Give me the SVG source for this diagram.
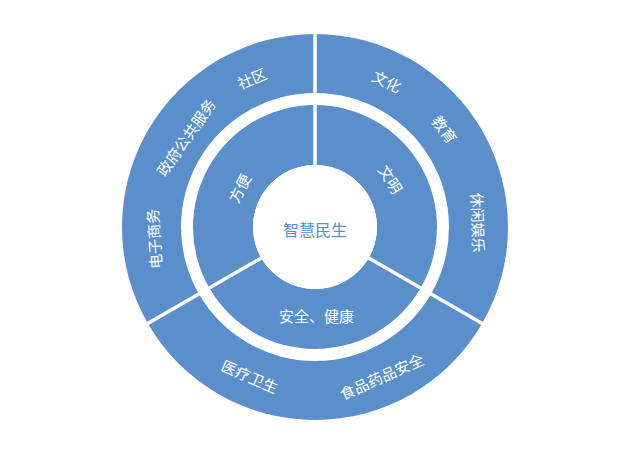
<svg xmlns="http://www.w3.org/2000/svg" width="630" height="454" viewBox="0 0 630 454">
<style>
.seg{fill:#5B8FCC}
.lbl{font-family:"Noto Sans CJK SC","Noto Sans",sans-serif;font-size:15px;fill:#ffffff;text-anchor:middle;dominant-baseline:central}
.ctr{font-family:"Noto Sans CJK SC","Noto Sans",sans-serif;font-size:16px;fill:#5B8FCC;text-anchor:middle;dominant-baseline:central}
.sep{stroke:#ffffff;stroke-width:3.5}
</style>
<rect width="630" height="454" fill="#ffffff"/>
<g id="outer-right">
<path class="seg" d="M315,34 A193,193 0 0 1 482.14,323.5 L431.05,294 A134,134 0 0 0 315,93 Z"/>
<text class="lbl" x="387" y="81" transform="rotate(26,387,81)">文化</text>
<text class="lbl" x="445" y="129" transform="rotate(53,445,129)">教育</text>
<text class="lbl" x="478.5" y="222.5" transform="rotate(88,478.5,222.5)">休闲娱乐</text>
</g>
<g id="outer-bottom">
<path class="seg" d="M482.14,323.5 A193,193 0 0 1 147.86,323.5 L198.95,294 A134,134 0 0 0 431.05,294 Z"/>
<text class="lbl" x="250" y="376" transform="rotate(23.6,250,376)">医疗卫生</text>
<text class="lbl" x="381.5" y="376" transform="rotate(-24,381.5,376)">食品药品安全</text>
</g>
<g id="outer-left">
<path class="seg" d="M147.86,323.5 A193,193 0 0 1 315,34 L315,93 A134,134 0 0 0 198.95,294 Z"/>
<text class="lbl" x="251.7" y="78" transform="rotate(-23,251.7,78)">社区</text>
<text class="lbl" x="185.6" y="137" transform="rotate(-55,185.6,137)">政府公共服务</text>
<text class="lbl" x="153.5" y="239" transform="rotate(-94,153.5,239)">电子商务</text>
</g>
<g id="inner-right">
<path class="seg" d="M315,105 A122,122 0 0 1 420.66,288 L368.69,258 A62,62 0 0 0 315,165 Z"/>
<text class="lbl" x="391" y="179" transform="rotate(57.7,391,179)">文明</text>
</g>
<g id="inner-bottom">
<path class="seg" d="M420.66,288 A122,122 0 0 1 209.34,288 L261.31,258 A62,62 0 0 0 368.69,258 Z"/>
<text class="lbl" x="316.5" y="315">安全、健康</text>
</g>
<g id="inner-left">
<path class="seg" d="M209.34,288 A122,122 0 0 1 315,105 L315,165 A62,62 0 0 0 261.31,258 Z"/>
<text class="lbl" x="239" y="188" transform="rotate(-62.8,239,188)">方便</text>
</g>
<g id="connectors">
<line class="sep" x1="315" y1="165" x2="315" y2="32"/>
<line class="sep" x1="368.69" y1="258" x2="484" y2="324.6"/>
<line class="sep" x1="261.31" y1="258" x2="146" y2="324.6"/>
</g>
<g id="center">
<circle cx="315" cy="227" r="62" fill="#ffffff"/>
<text class="ctr" x="315" y="228.5">智慧民生</text>
</g>
</svg>
